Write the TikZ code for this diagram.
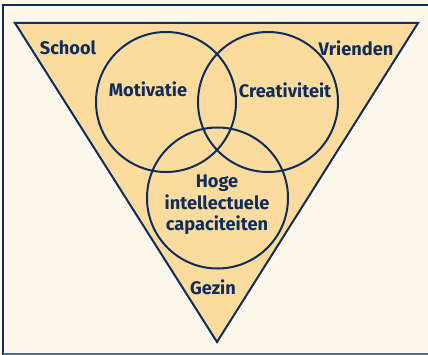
\documentclass[tikz,border=0pt]{standalone}
\usepackage{fontspec}
\setmainfont{Fira Sans}
\definecolor{navy}{HTML}{0E2D5A}
\definecolor{bgc}{HTML}{FEF7EC}
\definecolor{tri}{HTML}{FCDC9E}
\definecolor{frame}{HTML}{4F6F8F}
\begin{document}
\begin{tikzpicture}[x=1pt,y=-1pt,
  lbl/.style={text=navy,font=\fontsize{18.2}{21.5}\selectfont\bfseries,inner sep=0pt,align=center},
  ring/.style={draw=navy,line width=2pt}]
\fill[bgc] (0,0) rectangle (428,355);
\useasboundingbox (0,0) rectangle (428,355);
\draw[navy,line width=2pt] (3,355) -- (3,5) -- (428,5);
\draw[frame,line width=2pt] (3,354) -- (428,354);
\coordinate (tl) at (15,23);
\coordinate (tr) at (418,23);
\coordinate (bt) at (217,342);
\draw[fill=tri,draw=navy,line width=2pt,line join=miter] (tl) -- (tr) -- (bt) -- cycle;
\node[ring,circle,minimum size=140pt,inner sep=0pt] (c1) at (166,102) {};
\node[ring,circle,minimum size=140pt,inner sep=0pt] (c2) at (268,102) {};
\node[ring,circle,minimum size=141pt,inner sep=0pt] (c3) at (217.5,198) {};
\node[lbl] (school) at (68,48) {School};
\node[lbl] (vrienden) at (356,48) {Vrienden};
\node[lbl] (mot) at (148,89) {Motivatie};
\node[lbl] (cre) at (285,90) {Creativiteit};
\node[lbl] (hoge) at (217,205) {Hoge\\intellectuele\\capaciteiten};
\node[lbl] (gezin) at (213,287) {Gezin};
\end{tikzpicture}
\end{document}
